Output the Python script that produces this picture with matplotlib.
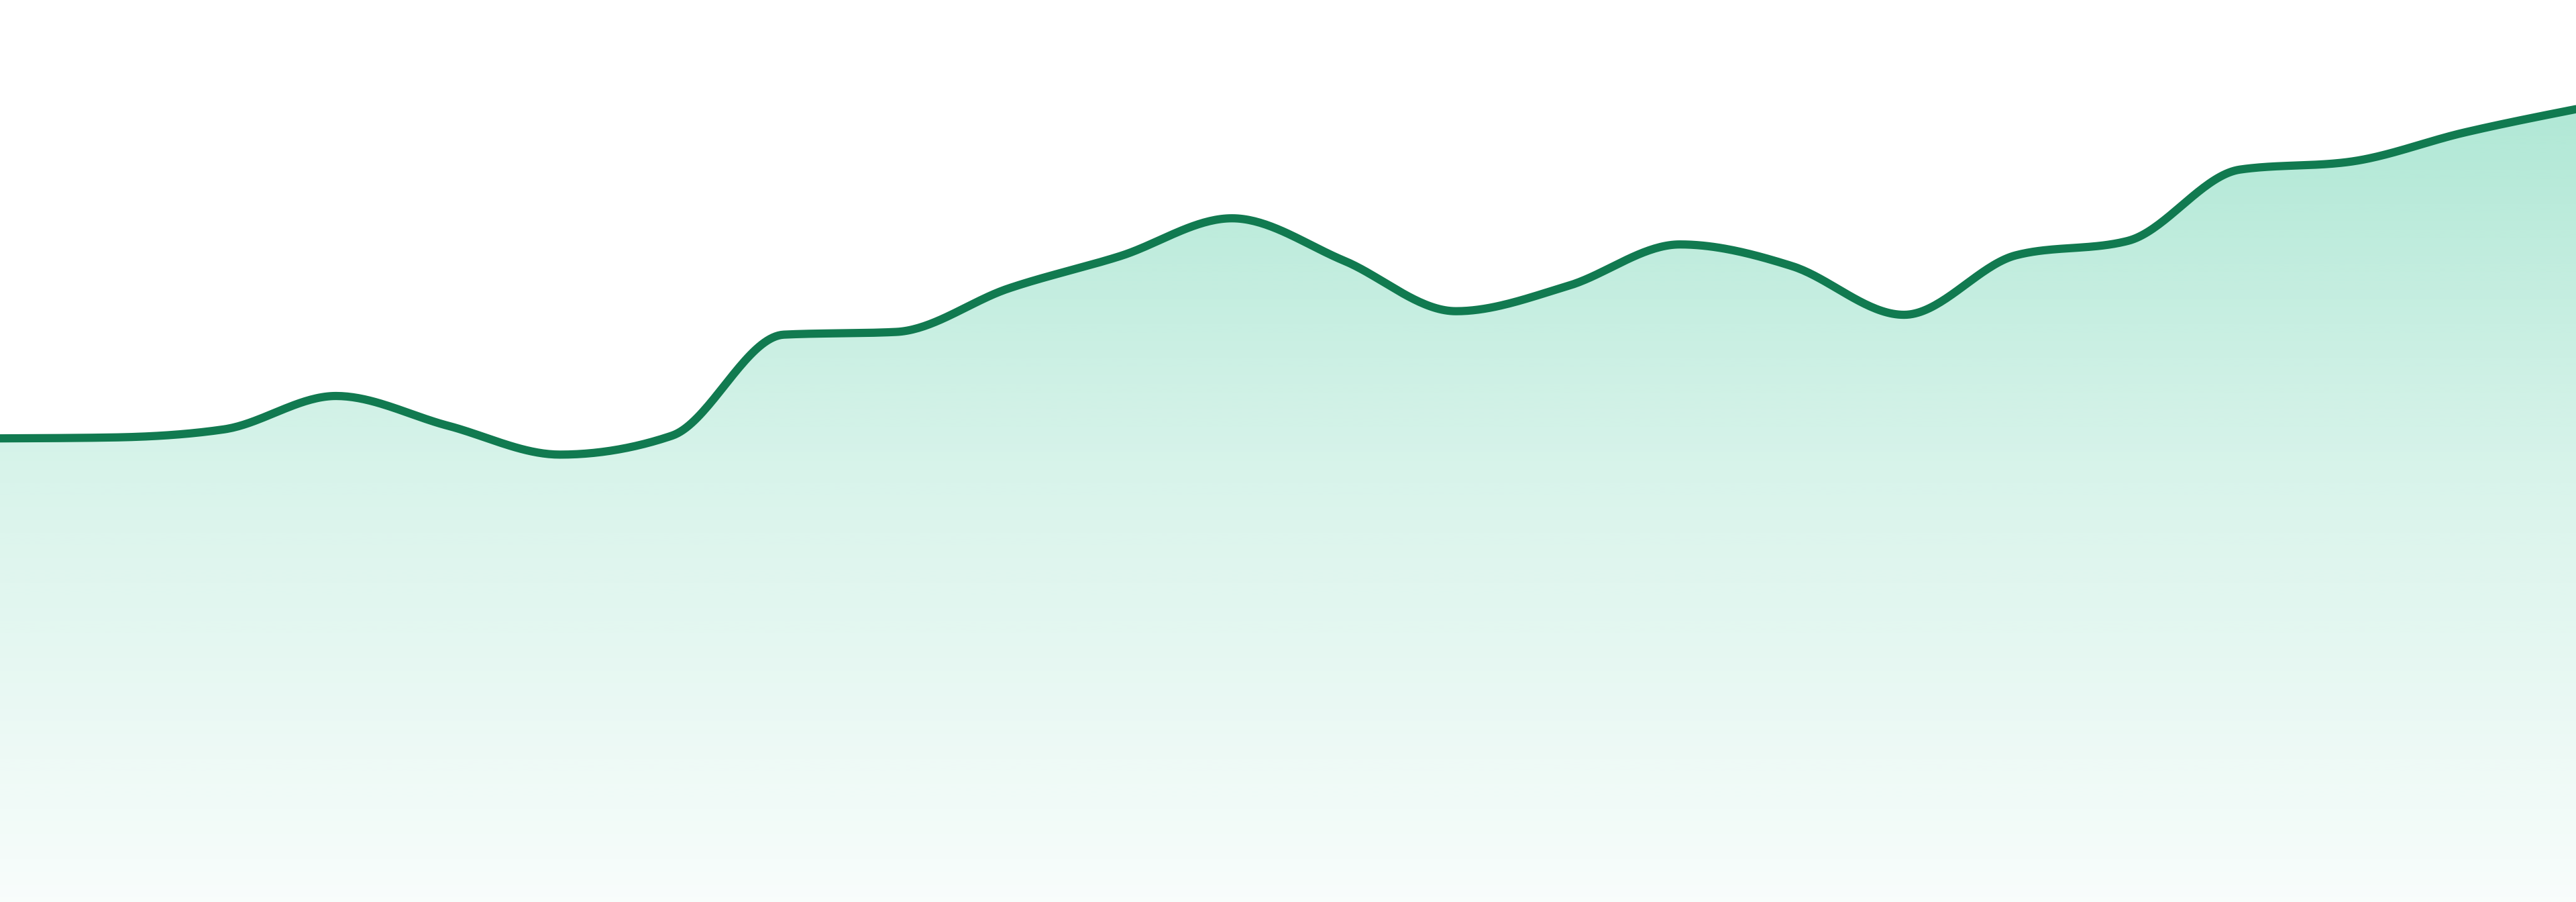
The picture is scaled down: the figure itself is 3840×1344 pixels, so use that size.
#!/usr/bin/env python

import numpy as np
import matplotlib
matplotlib.use('Agg')
import matplotlib.pyplot as plt

# 24 evenly spaced samples, values on a 0-100 scale
steps = list(range(24))
values = [51.4, 51.5, 52.4, 56.1, 52.8, 49.6, 51.7, 62.9, 63.2, 68.0, 71.6, 75.8,
          71.1, 65.5, 68.3, 72.9, 70.5, 65.1, 71.7, 73.3, 81.2, 82.1, 85.3, 87.9]

LINE = '#117a50'
FILL_RGB = (16/255., 185/255., 129/255.)


def monotone(x, y, n=40):
    # monotone cubic (like d3 curveMonotoneX)
    x = np.asarray(x, float)
    y = np.asarray(y, float)
    h = np.diff(x)
    s = np.diff(y) / h
    m = np.zeros_like(y)
    for k in range(1, len(y) - 1):
        s0, s1 = s[k-1], s[k]
        p = (s0*h[k] + s1*h[k-1]) / (h[k-1] + h[k])
        m[k] = (np.sign(s0) + np.sign(s1)) * min(abs(s0), abs(s1), 0.5*abs(p))
    m[0] = (3*s[0] - m[1]) / 2
    m[-1] = (3*s[-1] - m[-2]) / 2
    xs, ys = [], []
    for k in range(len(y) - 1):
        t = np.linspace(0, 1, n, endpoint=False)
        h00 = 2*t**3 - 3*t**2 + 1
        h10 = t**3 - 2*t**2 + t
        h01 = -2*t**3 + 3*t**2
        h11 = t**3 - t**2
        xs.append(x[k] + t*h[k])
        ys.append(h00*y[k] + h10*h[k]*m[k] + h01*y[k+1] + h11*h[k]*m[k+1])
    xs.append([x[-1]])
    ys.append([y[-1]])
    return np.concatenate(xs), np.concatenate(ys)


def main(filename='out.png'):
    fig = plt.figure(figsize=(38.4, 13.44), dpi=100)
    ax = fig.add_axes([0, 0, 1, 1])
    ax.set_xlim(0, 23)
    ax.set_ylim(0, 100)
    ax.axis('off')

    cx, cy = monotone(steps, values)

    # vertical gradient under the curve
    rows = np.linspace(100, 0, 600)
    alpha = np.interp(rows, [0, 48, 88, 100], [0.03, 0.165, 0.33, 0.36])
    img = np.zeros((len(rows), 2, 4))
    img[..., 0], img[..., 1], img[..., 2] = FILL_RGB
    img[..., 3] = alpha[:, None]
    poly = ax.fill_between(cx, cy, 0, color='none', lw=0)
    im = ax.imshow(img, extent=[0, 23, 0, 100], aspect='auto',
                   interpolation='bilinear', zorder=1)
    im.set_clip_path(poly.get_paths()[0], transform=ax.transData)

    ax.plot(cx, cy, color=LINE, linewidth=8.8, solid_capstyle='round',
            solid_joinstyle='round', zorder=3, clip_on=False)

    fig.savefig(filename, dpi=100)


if __name__ == "__main__":
    main()
